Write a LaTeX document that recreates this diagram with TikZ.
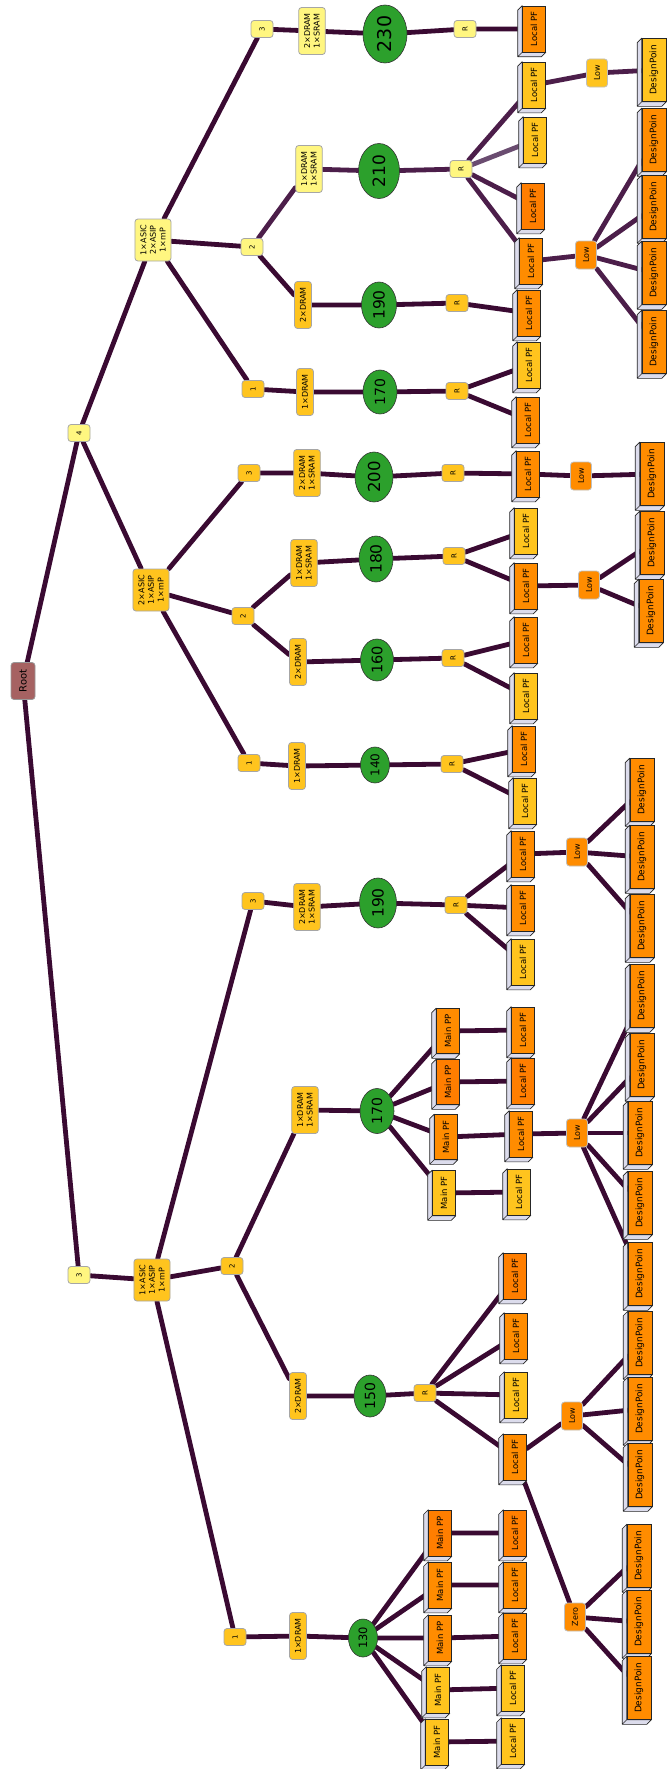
\documentclass[tikz,border=0pt]{standalone}
\usepackage{fontspec}
\setmainfont{DejaVu Sans}
\usetikzlibrary{shapes.geometric,backgrounds,calc}

\definecolor{lyel}{RGB}{255,246,128}
\definecolor{cGold}{RGB}{255,196,30}
\definecolor{cOrange}{RGB}{255,140,0}
\definecolor{cOrangeD}{RGB}{255,126,0}
\definecolor{rosy}{RGB}{166,98,98}
\definecolor{leaf}{RGB}{44,160,44}
\definecolor{side}{RGB}{220,220,236}
\definecolor{wire}{RGB}{58,10,50}
\definecolor{wireB}{RGB}{76,30,74}
\definecolor{wireC}{RGB}{106,76,112}

\tikzset{
  base/.style={rotate=90, inner sep=0pt, align=center, text=black},
  rt/.style={base, rounded corners=3pt, draw=black!40, line width=0.8pt, fill=rosy,
    minimum width=37pt, minimum height=24pt, font=\fontsize{10}{12}\selectfont},
  tag/.style={base, rounded corners=3pt, draw=black!35, line width=0.8pt,
    minimum width=17pt, minimum height=22pt, font=\fontsize{7}{8}\selectfont},
  cfg/.style={base, rounded corners=3pt, draw=black!35, line width=0.8pt,
    minimum width=47pt, inner xsep=5pt, inner ysep=5.5pt, font=\fontsize{8}{9.6}\selectfont},
  lvl/.style={base, rounded corners=3pt, draw=black!25, line width=0.8pt, fill=cOrange,
    minimum width=28pt, minimum height=21pt, font=\fontsize{8}{9}\selectfont},
  val/.style args={#1/#2/#3}{base, ellipse, draw=black!80, line width=0.6pt, fill=leaf,
    minimum width=#1pt, minimum height=#2pt, font=\fontsize{#3}{#3}\selectfont},
  pf/.style={base, draw=black!85, line width=0.6pt, minimum width=46pt, minimum height=23pt,
    font=\fontsize{8.5}{10}\selectfont,
    append after command={\pgfextra{
      \filldraw[fill=side, draw=black!85, line width=0.6pt, line join=round]
        (\tikzlastnode.north east) -- ++(-4.5,4.5)
        -- ($(\tikzlastnode.north west)+(-4.5,4.5)$)
        -- ($(\tikzlastnode.south west)+(-4.5,4.5)$)
        -- (\tikzlastnode.south west) -- (\tikzlastnode.north west) -- cycle
        (\tikzlastnode.north west) -- ++(-4.5,4.5);}}},
  dp/.style={pf, fill=cOrange, minimum width=63pt, minimum height=24pt, font=\fontsize{9}{10}\selectfont},
  link/.style={draw=wire, line width=4.8pt, line cap=round},
  linkB/.style={link, draw=wireB},
  linkC/.style={link, draw=wireC}
}

\begin{document}
\begin{tikzpicture}[x=1pt, y=-1pt]
\useasboundingbox (0,0) rectangle (669,1769);

\node[rt] (root) at (23,681) {Root};
\node[tag, fill=lyel] (k4) at (79,433) {4};
\node[tag, fill=lyel] (k3) at (79,1275) {3};
\node[cfg, fill=lyel, minimum width=42pt] (asA) at (153,240) {1×ASIC\\2×ASIP\\1×mP};
\node[cfg, fill=cGold, minimum width=42pt] (asB) at (151,590) {2×ASIC\\1×ASIP\\1×mP};
\node[cfg, fill=cGold, minimum width=42pt] (asC) at (152,1280) {1×ASIC\\1×ASIP\\1×mP};

% 1xASIC 2xASIP
\node[tag, fill=lyel] (a3) at (262,29) {3};
\node[cfg, fill=lyel] (a3m) at (312,31) {2×DRAM\\1×SRAM};
\node[val=58/44/19] (a3v) at (385,34) {230};
\node[tag, fill=lyel] (a3r) at (465,29) {R};
\node[pf, fill=cOrange] (a3p) at (534,29) {Local PF};

\node[tag, fill=lyel] (a2) at (252,247) {2};
\node[cfg, fill=lyel] (a2m) at (309,169) {1×DRAM\\1×SRAM};
\node[val=55/41/17] (a2v) at (379,171) {210};
\node[tag, fill=lyel] (a2r) at (461,169) {R};
\node[pf, fill=cGold] (a2p1) at (534,85) {Local PF};
\node[pf, fill=cGold] (a2p2) at (535,140) {Local PF};
\node[pf, fill=cOrangeD] (a2p3) at (533,206) {Local PF};
\node[pf, fill=cOrange] (a2p4) at (531,261) {Local PF};
\node[lvl, fill=cGold] (a2l1) at (597,73) {Low};
\node[dp, fill=cGold] (a2d0) at (654,70) {DesignPoin};
\node[lvl] (a2l2) at (586,255) {Low};
\node[dp] (a2d1) at (654,140) {DesignPoin};
\node[dp] (a2d2) at (654,207) {DesignPoin};
\node[dp] (a2d3) at (654,273) {DesignPoin};
\node[dp] (a2d4) at (654,342) {DesignPoin};

\node[cfg, fill=cGold] (a2n) at (303,305) {2×DRAM};
\node[val=46/35/15.5] (a2nv) at (379,305) {190};
\node[tag, fill=cGold] (a2nr) at (457,303) {R};
\node[pf, fill=cOrange] (a2np) at (529,313) {Local PF};

\node[tag, fill=cGold] (a1) at (253,389) {1};
\node[cfg, fill=cGold] (a1m) at (305,392) {1×DRAM};
\node[val=44/34/14] (a1v) at (380,392) {170};
\node[tag, fill=cGold] (a1r) at (457,391) {R};
\node[pf, fill=cGold] (a1p1) at (529,365) {Local PF};
\node[pf, fill=cOrange] (a1p2) at (528,420) {Local PF};

% 2xASIC 1xASIP
\node[tag, fill=cGold] (b3) at (249,473) {3};
\node[cfg, fill=cGold] (b3m) at (307,473) {2×DRAM\\1×SRAM};
\node[val=50/38/16.5] (b3v) at (374,477) {200};
\node[tag, fill=cGold] (b3r) at (453,473) {R};
\node[pf, fill=cOrange] (b3p) at (528,474) {Local PF};
\node[lvl] (b3l) at (581,476) {Low};
\node[dp] (b3d) at (652,474) {DesignPoin};

\node[tag, fill=cGold] (b2) at (243,616) {2};
\node[cfg, fill=cGold] (b2m) at (304,563) {1×DRAM\\1×SRAM};
\node[val=46/34/15.5] (b2v) at (376,559) {180};
\node[tag, fill=cGold] (b2r) at (454,556) {R};
\node[pf, fill=cGold] (b2p1) at (526,531) {Local PF};
\node[pf, fill=cOrange] (b2p2) at (526,586) {Local PF};
\node[lvl] (b2l) at (589,585) {Low};
\node[dp] (b2d1) at (652,543) {DesignPoin};
\node[dp] (b2d2) at (651,611) {DesignPoin};

\node[cfg, fill=cGold] (b2n) at (298,662) {2×DRAM};
\node[val=42/33/14.5] (b2nv) at (377,660) {160};
\node[tag, fill=cGold] (b2nr) at (453,658) {R};
\node[pf, fill=cOrange] (b2np1) at (526,640) {Local PF};
\node[pf, fill=cGold] (b2np2) at (526,696) {Local PF};

\node[tag, fill=cGold] (b1) at (249,763) {1};
\node[cfg, fill=cGold] (b1m) at (297,766) {1×DRAM};
\node[val=36/29/12] (b1v) at (375,765) {140};
\node[tag, fill=cGold] (b1r) at (452,764) {R};
\node[pf, fill=cOrange] (b1p1) at (524,749) {Local PF};
\node[pf, fill=cGold] (b1p2) at (525,801) {Local PF};

% 1xASIC 1xASIP
\node[tag, fill=cGold] (c3) at (253,901) {3};
\node[cfg, fill=cGold] (c3m) at (307,907) {2×DRAM\\1×SRAM};
\node[val=50/37/15.5] (c3v) at (378,903) {190};
\node[tag, fill=cGold] (c3r) at (456,905) {R};
\node[pf, fill=cOrange] (c3p1) at (523,854) {Local PF};
\node[pf, fill=cOrange] (c3p2) at (523,908) {Local PF};
\node[pf, fill=cGold] (c3p3) at (523,962) {Local PF};
\node[lvl] (c3l) at (577,852) {Low};
\node[dp] (c3d1) at (642,790) {DesignPoin};
\node[dp] (c3d2) at (642,857) {DesignPoin};
\node[dp] (c3d3) at (642,926) {DesignPoin};

\node[tag, fill=cGold] (c2) at (232,1266) {2};
\node[cfg, fill=cGold] (c2m) at (305,1110) {1×DRAM\\1×SRAM};
\node[val=45/34/14] (c2v) at (377,1111) {170};
\node[pf, fill=cOrange, minimum width=45pt] (c2q1) at (448,1031) {Main PP};
\node[pf, fill=cOrangeD, minimum width=45pt] (c2q2) at (448,1082) {Main PP};
\node[pf, fill=cOrange, minimum width=45pt] (c2q3) at (446,1137) {Main PF};
\node[pf, fill=cGold, minimum width=45pt] (c2q4) at (444,1193) {Main PF};
\node[pf, fill=cOrange] (c2p1) at (523,1030) {Local PF};
\node[pf, fill=cOrangeD] (c2p2) at (523,1081) {Local PF};
\node[pf, fill=cOrange] (c2p3) at (521,1134) {Local PF};
\node[pf, fill=cGold] (c2p4) at (519,1192) {Local PF};
\node[lvl] (c2l) at (577,1133) {Low};
\node[dp] (c2d1) at (642,996) {DesignPoin};
\node[dp] (c2d2) at (642,1065) {DesignPoin};
\node[dp] (c2d3) at (640,1133) {DesignPoin};
\node[dp] (c2d4) at (640,1203) {DesignPoin};
\node[dp] (c2d5) at (640,1274) {DesignPoin};

\node[cfg, fill=cGold] (c2n) at (298,1396) {2×DRAM};
\node[val=42/32/14] (c2nv) at (370,1396) {150};
\node[tag, fill=cGold] (c2nr) at (425,1393) {R};
\node[pf, fill=cOrangeD] (c2np1) at (515,1276) {Local PF};
\node[pf, fill=cOrange] (c2np2) at (516,1336) {Local PF};
\node[pf, fill=cGold] (c2np3) at (516,1395) {Local PF};
\node[pf, fill=cOrange] (c2np4) at (515,1457) {Local PF};
\node[lvl] (c2nl) at (572,1416) {Low};
\node[dp] (c2nd1) at (640,1343) {DesignPoin};
\node[dp] (c2nd2) at (640,1409) {DesignPoin};
\node[dp] (c2nd3) at (640,1475) {DesignPoin};
\node[lvl] (c2nz) at (575,1617) {Zero};
\node[dp] (c2nz1) at (639,1556) {DesignPoin};
\node[dp] (c2nz2) at (639,1622) {DesignPoin};
\node[dp] (c2nz3) at (639,1688) {DesignPoin};

\node[tag, fill=cGold] (c1) at (235,1637) {1};
\node[cfg, fill=cGold] (c1m) at (298,1636) {1×DRAM};
\node[val=38/29/11.5] (c1v) at (363,1638) {130};
\node[pf, fill=cOrangeD] (c1q1) at (440,1533) {Main PP};
\node[pf, fill=cOrange] (c1q2) at (440,1585) {Main PF};
\node[pf, fill=cOrange] (c1q3) at (440,1638) {Main PP};
\node[pf, fill=cGold] (c1q4) at (438,1690) {Main PF};
\node[pf, fill=cGold] (c1q5) at (437,1742) {Main PF};
\node[pf, fill=cOrangeD] (c1p1) at (515,1533) {Local PF};
\node[pf, fill=cOrange] (c1p2) at (515,1585) {Local PF};
\node[pf, fill=cOrange] (c1p3) at (515,1636) {Local PF};
\node[pf, fill=cGold] (c1p4) at (513,1688) {Local PF};
\node[pf, fill=cGold] (c1p5) at (513,1741) {Local PF};

\begin{scope}[on background layer]
\draw[link] (root) -- (k4) (root) -- (k3) (k4) -- (asA) (k4) -- (asB) (k3) -- (asC);
\draw[link] (asA) -- (a3) (asA) -- (a2) (asA) -- (a1);
\draw[link] (a3) -- (a3m) -- (a3v) -- (a3r) -- (a3p);
\draw[linkB] (a2) -- (a2m) -- (a2v) -- (a2r);
\draw[linkB] (a2r) -- (a2p1) (a2r) -- (a2p3) (a2r) -- (a2p4);
\draw[linkC] (a2r) -- (a2p2);
\draw[linkB] (a2p1) -- (a2l1) -- (a2d0) (a2p4) -- (a2l2);
\foreach \i in {1,...,4} \draw[linkB] (a2l2) -- (a2d\i);
\draw[link] (a2) -- (a2n) -- (a2nv) -- (a2nr) -- (a2np);
\draw[link] (a1) -- (a1m) -- (a1v) -- (a1r) -- (a1p1) (a1r) -- (a1p2);

\draw[link] (asB) -- (b3) (asB) -- (b2) (asB) -- (b1);
\draw[link] (b3) -- (b3m) -- (b3v) -- (b3r) -- (b3p) -- (b3l) -- (b3d);
\draw[link] (b2) -- (b2m) -- (b2v) -- (b2r) -- (b2p1) (b2r) -- (b2p2) -- (b2l) -- (b2d1) (b2l) -- (b2d2);
\draw[link] (b2) -- (b2n) -- (b2nv) -- (b2nr) -- (b2np1) (b2nr) -- (b2np2);
\draw[link] (b1) -- (b1m) -- (b1v) -- (b1r) -- (b1p1) (b1r) -- (b1p2);

\draw[link] (asC) -- (c3) (asC) -- (c2) (asC) -- (c1);
\draw[link] (c3) -- (c3m) -- (c3v) -- (c3r);
\foreach \i in {1,2,3} \draw[link] (c3r) -- (c3p\i) (c3l) -- (c3d\i);
\draw[link] (c3p1) -- (c3l);
\draw[link] (c2) -- (c2m) -- (c2v);
\foreach \i in {1,...,4} \draw[link] (c2v) -- (c2q\i) -- (c2p\i);
\draw[link] (c2p3) -- (c2l);
\foreach \i in {1,...,5} \draw[link] (c2l) -- (c2d\i);
\draw[link] (c2) -- (c2n) -- (c2nv) -- (c2nr);
\foreach \i in {1,...,4} \draw[link] (c2nr) -- (c2np\i);
\draw[link] (c2np4) -- (c2nl) (c2np4) -- (c2nz);
\foreach \i in {1,2,3} \draw[link] (c2nl) -- (c2nd\i) (c2nz) -- (c2nz\i);
\draw[link] (c1) -- (c1m) -- (c1v);
\foreach \i in {1,...,5} \draw[link] (c1v) -- (c1q\i) -- (c1p\i);
\end{scope}
\end{tikzpicture}
\end{document}
